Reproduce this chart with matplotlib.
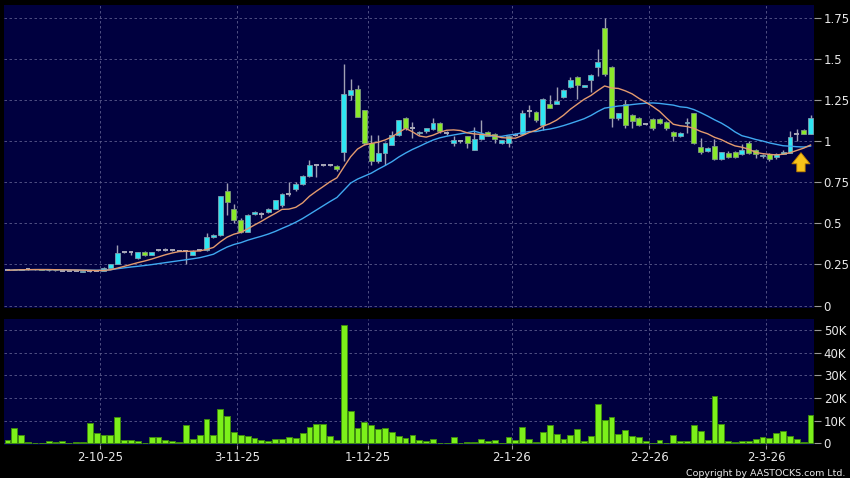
import matplotlib
matplotlib.use("Agg")
import matplotlib.pyplot as plt
import numpy as np
import pandas as pd

# ---- data ----
opens = [0.215, 0.215, 0.218, 0.22, 0.22, 0.221, 0.214, 0.215, 0.212, 0.212,
         0.21, 0.205, 0.208, 0.21, 0.21, 0.23, 0.255, 0.325, 0.325, 0.29,
         0.325, 0.31, 0.34, 0.34, 0.34, 0.335, 0.335, 0.31, 0.34, 0.34,
         0.415, 0.43, 0.695, 0.59, 0.52, 0.45, 0.555, 0.56, 0.57, 0.59,
         0.61, 0.68, 0.71, 0.74, 0.79, 0.855, 0.855, 0.855, 0.85, 0.935,
         1.28, 1.32, 1.19, 0.99, 0.88, 0.93, 0.98, 1.04, 1.14, 1.08,
         1.05, 1.06, 1.075, 1.11, 1.05, 0.99, 1.0, 1.03, 0.95, 1.015,
         1.055, 1.045, 0.99, 0.99, 1.04, 1.045, 1.185, 1.18, 1.10, 1.23,
         1.23, 1.27, 1.33, 1.39, 1.33, 1.375, 1.455, 1.69, 1.455, 1.14,
         1.225, 1.16, 1.14, 1.105, 1.135, 1.135, 1.12, 1.055, 1.03, 1.11,
         1.17, 0.965, 0.94, 0.97, 0.89, 0.93, 0.935, 0.92, 0.99, 0.95,
         0.91, 0.925, 0.905, 0.925, 0.93, 1.045, 1.07, 1.045]
highs = [0.216, 0.22, 0.221, 0.222, 0.222, 0.222, 0.219, 0.216, 0.214, 0.213,
         0.212, 0.21, 0.212, 0.212, 0.232, 0.252, 0.37, 0.335, 0.33, 0.328,
         0.33, 0.328, 0.345, 0.35, 0.345, 0.34, 0.34, 0.34, 0.345, 0.44,
         0.435, 0.67, 0.745, 0.62, 0.53, 0.56, 0.575, 0.57, 0.595, 0.645,
         0.685, 0.75, 0.75, 0.795, 0.885, 0.86, 0.86, 0.86, 0.855, 1.47,
         1.38, 1.34, 1.19, 1.04, 1.04, 0.995, 1.06, 1.13, 1.145, 1.12,
         1.06, 1.08, 1.14, 1.115, 1.06, 1.03, 1.01, 1.035, 1.09, 1.13,
         1.06, 1.05, 1.01, 1.04, 1.05, 1.19, 1.22, 1.185, 1.265, 1.28,
         1.33, 1.32, 1.39, 1.395, 1.345, 1.41, 1.565, 1.75, 1.46, 1.17,
         1.25, 1.165, 1.145, 1.11, 1.14, 1.14, 1.125, 1.06, 1.055, 1.14,
         1.175, 1.02, 0.965, 1.015, 0.935, 0.94, 0.94, 0.985, 1.0, 0.955,
         0.92, 0.93, 0.93, 0.945, 1.065, 1.075, 1.075, 1.16]
lows = [0.214, 0.214, 0.217, 0.219, 0.219, 0.218, 0.213, 0.213, 0.211, 0.211,
        0.208, 0.204, 0.206, 0.208, 0.209, 0.229, 0.25, 0.32, 0.305, 0.285,
        0.30, 0.305, 0.335, 0.335, 0.335, 0.33, 0.255, 0.305, 0.335, 0.335,
        0.41, 0.425, 0.55, 0.50, 0.44, 0.445, 0.55, 0.53, 0.565, 0.585,
        0.60, 0.67, 0.70, 0.735, 0.785, 0.78, 0.85, 0.85, 0.82, 0.88,
        1.25, 1.15, 0.975, 0.855, 0.87, 0.855, 0.975, 1.035, 1.07, 1.02,
        1.04, 1.05, 1.07, 1.05, 1.04, 0.97, 0.99, 0.96, 0.945, 1.01,
        1.03, 0.99, 0.985, 0.965, 1.03, 1.04, 1.145, 1.12, 1.07, 1.20,
        1.225, 1.265, 1.325, 1.26, 1.33, 1.30, 1.40, 1.40, 1.09, 1.13,
        1.08, 1.08, 1.095, 1.10, 1.07, 1.105, 1.07, 1.00, 1.025, 1.05,
        0.985, 0.92, 0.935, 0.885, 0.885, 0.90, 0.90, 0.915, 0.925, 0.90,
        0.90, 0.88, 0.895, 0.92, 0.93, 1.0, 1.045, 1.045]
closes = [0.215, 0.218, 0.22, 0.22, 0.221, 0.219, 0.218, 0.214, 0.212, 0.212,
          0.21, 0.209, 0.208, 0.21, 0.23, 0.25, 0.32, 0.325, 0.325, 0.325,
          0.31, 0.325, 0.34, 0.34, 0.34, 0.335, 0.335, 0.335, 0.34, 0.415,
          0.43, 0.665, 0.63, 0.52, 0.45, 0.55, 0.57, 0.56, 0.59, 0.64,
          0.68, 0.68, 0.74, 0.79, 0.855, 0.855, 0.855, 0.855, 0.83, 1.29,
          1.31, 1.15, 0.99, 0.88, 0.93, 0.99, 1.04, 1.13, 1.08, 1.08,
          1.055, 1.08, 1.11, 1.06, 1.05, 1.01, 1.0, 0.99, 1.015, 1.045,
          1.03, 1.015, 1.01, 1.035, 1.04, 1.17, 1.185, 1.13, 1.26, 1.20,
          1.245, 1.31, 1.375, 1.34, 1.34, 1.405, 1.485, 1.41, 1.14, 1.17,
          1.10, 1.125, 1.10, 1.105, 1.08, 1.11, 1.08, 1.03, 1.05, 1.12,
          0.99, 0.935, 0.96, 0.89, 0.935, 0.905, 0.905, 0.95, 0.93, 0.925,
          0.915, 0.89, 0.925, 0.935, 1.025, 1.045, 1.045, 1.14]
volumes_k = [1.3, 6.6, 3.7, 0.6, 0.3, 0.1, 1.2, 0.6, 1.0, 0.05,
             0.4, 0.4, 9.0, 4.7, 3.5, 3.5, 11.6, 1.5, 1.5, 1.2,
             0.1, 2.6, 2.8, 1.3, 0.9, 0.4, 7.9, 1.9, 3.5, 10.6,
             3.7, 15.1, 11.9, 5.1, 3.8, 3.2, 2.2, 1.5, 1.2, 2.1,
             2.1, 2.9, 2.5, 4.7, 7.1, 8.5, 8.5, 3.4, 1.5, 52.2,
             14.1, 6.9, 9.4, 8.1, 6.2, 6.9, 5.1, 3.2, 2.5, 3.7,
             1.6, 1.2, 1.9, 0.1, 0.3, 2.8, 0.05, 0.4, 0.4, 1.8,
             1.2, 1.6, 0.3, 2.8, 1.3, 7.1, 1.9, 0.7, 5.0, 7.9,
             4.3, 1.8, 3.5, 6.3, 1.2, 3.4, 17.5, 10.3, 11.6, 4.1,
             5.9, 3.4, 2.6, 0.9, 0.1, 1.5, 0.3, 3.5, 1.2, 1.0,
             7.9, 5.3, 1.6, 21.0, 8.4, 0.9, 0.6, 1.2, 1.2, 1.8,
             2.6, 2.2, 4.4, 5.3, 3.2, 1.9, 0.4, 12.4]
date_labels = ["2-10-25", "3-11-25", "1-12-25", "2-1-26", "2-2-26", "2-3-26"]
date_positions = [13.5, 33.5, 52.5, 73.5, 93.5, 110.5]
price_ticks = [0, 0.25, 0.5, 0.75, 1, 1.25, 1.5, 1.75]
price_tick_labels = ["0", "0.25", "0.5", "0.75", "1", "1.25", "1.5", "1.75"]
vol_ticks = [0, 10, 20, 30, 40, 50]
vol_tick_labels = ["0", "10K", "20K", "30K", "40K", "50K"]
ma_short_window = 10
ma_long_window = 20

# ---- styling ----
BG = "#00003f"
GRID = "#5c5c8c"
UP = "#2ee6f2"
DOWN = "#8ae82a"
DOJI = "#a8a8b8"
WICK = "#a0a0b4"
TXT = "#e8e8e8"

o = np.array(opens); h = np.array(highs); l = np.array(lows); c = np.array(closes)
v = np.array(volumes_k)
idx = np.arange(len(c))
ma_s = pd.Series(c).rolling(ma_short_window, min_periods=1).mean()
ma_l = pd.Series(c).rolling(ma_long_window, min_periods=1).mean()

fig = plt.figure(figsize=(8.5, 4.78), dpi=100, facecolor="black")
ax = fig.add_axes([4 / 850, 1 - 308 / 478, 810 / 850, 303 / 478])
axv = fig.add_axes([4 / 850, 1 - 445 / 478, 810 / 850, (445 - 319.3) / 478])

for a in (ax, axv):
    a.set_facecolor(BG)
    for s in a.spines.values():
        s.set_visible(False)
    a.set_xlim(-0.5, len(c) - 0.5)
    a.set_xticks(date_positions)
    a.grid(True, color=GRID, linestyle=(0, (3, 3)), linewidth=0.6)
    a.set_axisbelow(True)
    a.yaxis.tick_right()
    a.tick_params(axis="y", colors="#9a9a9a", labelcolor=TXT, labelsize=8.5,
                  length=5, width=0.8, pad=2)

# price panel
ax.set_ylim(-0.015, 1.83)
ax.set_yticks(price_ticks)
ax.set_yticklabels(price_tick_labels)
ax.tick_params(axis="x", length=0, labelbottom=False)

up = c > o
down = c < o
flat = c == o
ax.vlines(idx, l, h, color=WICK, linewidth=1, zorder=2)
width = 0.72
ax.bar(idx[up], (c - o)[up], bottom=o[up], width=width, color=UP,
       edgecolor="#7fa0b0", linewidth=0.6, zorder=3)
ax.bar(idx[down], (o - c)[down], bottom=c[down], width=width, color=DOWN,
       edgecolor="#7f9a80", linewidth=0.6, zorder=3)
ax.hlines(c[flat], idx[flat] - width / 2, idx[flat] + width / 2, color=DOJI,
          linewidth=1.4, zorder=3)
ax.plot(idx, ma_l, color="#3fa8f0", linewidth=1.0, zorder=4)
ax.plot(idx, ma_s, color="#e39a6e", linewidth=1.0, zorder=4)

# marker arrow at the latest bar
last = len(c) - 1
ax.annotate("", xy=(last - 1.4, ma_s.iloc[-1] - 0.03),
            xytext=(last - 1.4, ma_s.iloc[-1] - 0.18),
            arrowprops=dict(arrowstyle="simple,head_length=0.8,head_width=1.3,tail_width=0.6",
                            facecolor="#f7c21a", edgecolor="#c08000", linewidth=0.6),
            zorder=6)

# volume panel
axv.set_ylim(-0.75, 54.7)
axv.set_yticks(vol_ticks)
axv.set_yticklabels(vol_tick_labels)
axv.bar(idx, v, width=0.85, color="#7cf01a", edgecolor="#3e8a10", linewidth=0.7, zorder=3)
axv.set_xticklabels(date_labels)
axv.tick_params(axis="x", colors="#9a9a9a", labelcolor=TXT, labelsize=8.5,
                length=3, width=0.8, pad=1.5)

fig.text(0.995, 0.0, "Copyright by AASTOCKS.com Ltd.", ha="right", va="bottom",
         fontsize=6.8, color=TXT)

fig.savefig("out.png", dpi=100, facecolor="black")
